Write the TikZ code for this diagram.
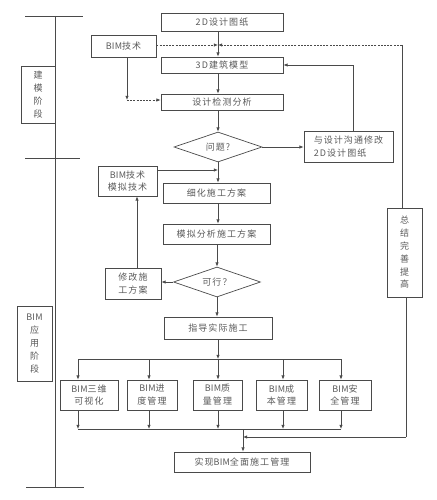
\documentclass[tikz,border=0pt]{standalone}
\usepackage{fontspec}
\setmainfont{Noto Sans CJK SC}[LetterSpace=12]
\newfontfamily\latf{Noto Sans CJK SC}[LetterSpace=2]
\newcommand{\bimw}{{\latf BIM}}
\usetikzlibrary{shapes.geometric,arrows.meta}
\definecolor{ln}{HTML}{4a4a4a}
\definecolor{tx}{HTML}{5a5a5a}
\begin{document}
\begin{tikzpicture}[x=1pt,y=-1pt]
\tikzset{
 box/.style={draw=ln, line width=0.7pt, inner sep=0pt, align=center, text=tx, font=\fontsize{9}{12.8}\selectfont},
 dia/.style={box, diamond, aspect=3},
 arr/.style={draw=ln, line width=0.7pt, -{Latex[length=4.2pt,width=3.4pt]}},
 ln0/.style={draw=ln, line width=0.7pt},
 dsh/.style={dash pattern=on 2pt off 1.2pt},
}
\fill[white] (0,0) rectangle (436,500);
\useasboundingbox (0,0) rectangle (436,500);

% main column
\node[box,minimum width=122,minimum height=18] (d2) at (222,22) {2D设计图纸};
\node[box,minimum width=122,minimum height=16] (m3) at (222,65) {3D建筑模型};
\node[box,minimum width=122,minimum height=16] (an) at (222,102) {设计检测分析};
\node[dia,minimum width=88,minimum height=30] (q1) at (218,147) {问题?};
\node[box,minimum width=89,minimum height=31,align=left] (cm) at (348.5,146.5) {与设计沟通修改\\2D设计图纸};
\node[box,minimum width=65,minimum height=22] (b1) at (123.5,46) {\bimw 技术};
\node[box,minimum width=59,minimum height=30] (b2) at (127.5,181) {\bimw 技术\\模拟技术};
\node[box,minimum width=107,minimum height=20] (xh) at (216.5,193) {细化施工方案};
\node[box,minimum width=107,minimum height=20] (mn) at (216.5,234) {模拟分析施工方案};
\node[dia,minimum width=87,minimum height=30] (q2) at (217,282) {可行？};
\node[box,minimum width=56,minimum height=31] (xg) at (133,283.5) {修改施\\工方案};
\node[box,minimum width=108,minimum height=22] (zd) at (218,328) {指导实际施工};

\node[box,minimum width=58,minimum height=30] (p1) at (89,395) {\bimw 三维\\可视化};
\node[box,minimum width=50,minimum height=30] (p2) at (152,395) {\bimw 进\\度管理};
\node[box,minimum width=49,minimum height=30] (p3) at (217.5,395) {\bimw 质\\量管理};
\node[box,minimum width=51,minimum height=30] (p4) at (281.5,395) {\bimw 成\\本管理};
\node[box,minimum width=52,minimum height=30] (p5) at (345,395) {\bimw 安\\全管理};

\node[box,minimum width=136,minimum height=20] (sx) at (242,462) {实现\bimw 全面施工管理};
\node[box,minimum width=35,minimum height=89] (zj) at (404.5,252.5) {总\\结\\完\\善\\提\\高};

% left phase labels
\node[box,minimum width=34,minimum height=57] (jm) at (38,94.5) {建\\模\\阶\\段};
\node[box,minimum width=35,minimum height=75] (yy) at (34.5,343.5) {\bimw\\应\\用\\阶\\段};
\coordinate (T0) at (55,16);
\coordinate (T1) at (55,487);
\draw[ln0] (T0) -- (T1);
\draw[ln0] (25,16) -- (83,16);
\draw[ln0] (25,158) -- (80,158);
\draw[ln0] (26,487) -- (84,487);

% connectors, upper part
\coordinate (J1) at (218,45);
\draw[arr] (d2.south -| J1) -- (m3.north -| J1);
\draw[arr,dsh] (b1.east |- J1) -- (J1);
\coordinate (R1) at (402,45);
\draw[ln0] (R1) -- (R1 |- zj.north);
\draw[arr,dsh] (R1) -- (J1);
\coordinate (K1) at (127,100);
\draw[arr] (b1.south -| K1) -- (K1);
\draw[arr,dsh] (K1) -- (an.west |- K1);
\draw[arr] (m3.south -| J1) -- (an.north -| J1);
\draw[arr] (an.south -| J1) -- (q1.north);
\draw[arr] (q1.east) -- (q1.east -| cm.west);
\coordinate (C1) at (353,65);
\draw[arr] (cm.north -| C1) |- (m3.east);

% middle part
\coordinate (J2) at (218,170);
\draw[arr] (q1.south) -- (xh.north -| q1.south);
\draw[arr] (b2.east |- J2) -- (J2);
\draw[arr] (xh.south -| J2) -- (mn.north -| J2);
\draw[arr] (mn.south -| q2.north) -- (q2.north);
\draw[arr] (q2.west) -- (q2.west -| xg.east);
\coordinate (C2) at (137,250);
\draw[arr] (xg.north -| C2) -- (b2.south -| C2);
\draw[arr] (q2.south) -- (zd.north -| q2.south);

% distribution bus
\coordinate (B1) at (78,359);
\coordinate (B2) at (341,359);
\draw[arr] (zd.south) -- (zd.south |- B1);
\draw[ln0] (B1) -- (B2);
\coordinate (L1) at (78,429);
\coordinate (L2) at (341,429);
\draw[ln0] (L1) -- (L2);
\coordinate (a1) at (78,359);
\coordinate (a2) at (149,359);
\coordinate (a3) at (218,359);
\coordinate (a4) at (283,359);
\coordinate (a5) at (341,359);
\foreach \i in {1,...,5}{
  \draw[arr] (a\i) -- (a\i |- p\i.north);
  \draw[arr] (p\i.south -| a\i) -- (a\i |- L1);
}
\coordinate (S1) at (243,429);
\draw[arr] (S1) -- (sx.north -| S1);
\coordinate (F1) at (406,437);
\draw[ln0] (zj.south -| F1) -- (F1);
\draw[arr] (F1) -- (S1 |- F1);
\end{tikzpicture}
\end{document}
